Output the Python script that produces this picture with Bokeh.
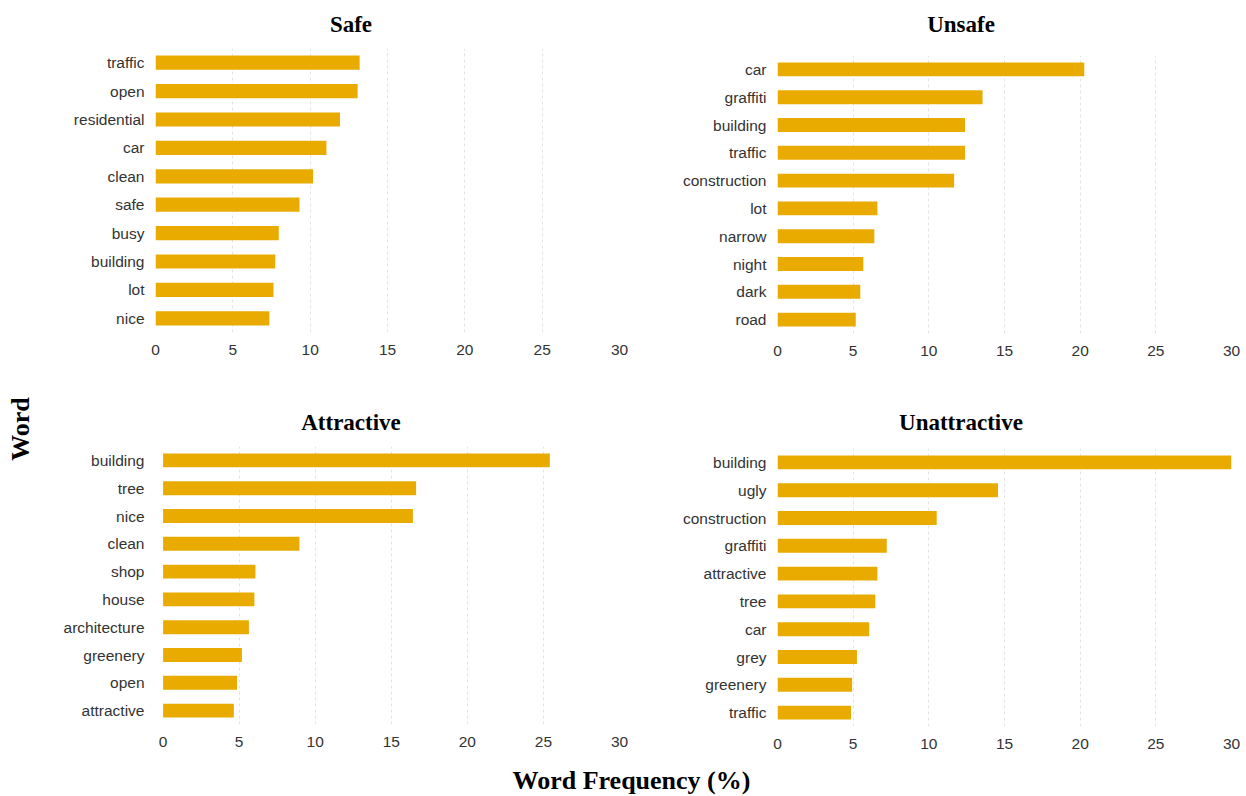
import math
from bokeh.plotting import figure
from bokeh.models import Range1d, FixedTicker, Label, ColumnDataSource
from bokeh.layouts import row, column
from bokeh.embed import file_html
from bokeh.resources import INLINE

# ---------------- data ----------------
safe_words = ["traffic", "open", "residential", "car", "clean", "safe", "busy", "building", "lot", "nice"]
safe_vals = [13.2, 13.07, 11.93, 11.05, 10.19, 9.31, 7.97, 7.74, 7.63, 7.36]

unsafe_words = ["car", "graffiti", "building", "traffic", "construction", "lot", "narrow", "night", "dark", "road"]
unsafe_vals = [20.27, 13.55, 12.39, 12.39, 11.67, 6.6, 6.4, 5.67, 5.47, 5.17]

attractive_words = ["building", "tree", "nice", "clean", "shop", "house", "architecture", "greenery", "open", "attractive"]
attractive_vals = [25.42, 16.63, 16.42, 8.96, 6.07, 6.0, 5.64, 5.18, 4.86, 4.65]

unattractive_words = ["building", "ugly", "construction", "graffiti", "attractive", "tree", "car", "grey", "greenery", "traffic"]
unattractive_vals = [30.0, 14.57, 10.52, 7.22, 6.6, 6.46, 6.06, 5.25, 4.93, 4.86]

x_ticks = [0, 5, 10, 15, 20, 25, 30]
grid_ticks = [5, 10, 15, 20, 25]

titles = ["Safe", "Unsafe", "Attractive", "Unattractive"]
x_label = "Word Frequency (%)"
y_label = "Word"

# ---------------- style / layout ----------------
BAR = "#E9AB00"
TICK_FONT = "Liberation Sans"
TITLE_FONT = "Liberation Serif"
TICK_COLOR = "#333333"

STRIP_W = 42
LEFT_W = 606
RIGHT_W = 598
TOP_TITLE_H = 40
TOP_H = 355
BOT_TITLE_H = 45
BOT_H = 320
XLAB_H = 36

LEFT_ML, LEFT_MR = 113, 29      # shared borders of left column (frames aligned)
RIGHT_ML, RIGHT_MR = 129, 15    # shared borders of right column


def text_strip(width, height, text, x, y, size, xr=None, angle=0.0):
    if xr is None:
        xr = (0, width)
    f = figure(width=width, height=height, x_range=Range1d(*xr),
               y_range=Range1d(0, height), output_backend="svg",
               toolbar_location=None, x_axis_location=None, y_axis_location=None,
               min_border=0)
    f.outline_line_color = None
    f.grid.visible = False
    f.add_layout(Label(x=x, y=y, text=text, angle=angle, text_align="center",
                       text_baseline="middle", text_font=TITLE_FONT,
                       text_font_style="bold", text_font_size=size,
                       text_color="black"))
    return f


def panel(words, vals, width, height, mb, x_start=0.0):
    n = len(words)
    pos = [n - 1 - i for i in range(n)]
    src = ColumnDataSource(dict(y=pos, v=vals, w=words))
    ml, mr, mt, mbtm = mb
    p = figure(width=width, height=height,
               x_range=Range1d(x_start, 30), y_range=Range1d(-0.5, n - 0.5),
               output_backend="svg", toolbar_location=None,
               min_border_left=ml, min_border_right=mr,
               min_border_top=mt, min_border_bottom=mbtm)
    p.hbar(y="y", left=0, right="v", height=0.5, source=src,
           fill_color=BAR, line_color=None)

    p.outline_line_color = None
    p.background_fill_color = "white"
    p.border_fill_color = "white"

    p.xaxis.ticker = FixedTicker(ticks=x_ticks)
    p.yaxis.ticker = FixedTicker(ticks=pos)
    p.yaxis.major_label_overrides = {k: w for k, w in zip(pos, words)}
    for ax in (p.xaxis, p.yaxis):
        ax.axis_line_color = None
        ax.major_tick_line_color = None
        ax.minor_tick_line_color = None
        ax.major_tick_out = 0
        ax.major_tick_in = 0
        ax.major_label_text_font = TICK_FONT
        ax.major_label_text_font_size = "15.5px"
        ax.major_label_text_color = TICK_COLOR
    p.xaxis.major_label_standoff = 12
    p.yaxis.major_label_standoff = 11

    p.xgrid.ticker = FixedTicker(ticks=grid_ticks)
    p.xgrid.grid_line_color = "#e3e3e3"
    p.xgrid.grid_line_dash = "3 3"
    p.xgrid.grid_line_width = 1
    p.ygrid.visible = False
    return p


p_safe = panel(safe_words, safe_vals, LEFT_W, TOP_H, (LEFT_ML, LEFT_MR, 8, 63))
p_unsafe = panel(unsafe_words, unsafe_vals, RIGHT_W, TOP_H, (RIGHT_ML, RIGHT_MR, 15, 62))
p_attr = panel(attractive_words, attractive_vals, LEFT_W, BOT_H, (LEFT_ML, LEFT_MR, 6, 36), x_start=-0.5)
p_unattr = panel(unattractive_words, unattractive_vals, RIGHT_W, BOT_H, (RIGHT_ML, RIGHT_MR, 8, 34))

# title strips: their frames share the column's borders, so map x in page pixels
left_frame = (STRIP_W + LEFT_ML, STRIP_W + LEFT_W - LEFT_MR)
right_frame = (STRIP_W + LEFT_W + RIGHT_ML, STRIP_W + LEFT_W + RIGHT_W - RIGHT_MR)
bot_title_y0 = TOP_TITLE_H + TOP_H

t_safe = text_strip(LEFT_W, TOP_TITLE_H, titles[0], 350.5, TOP_TITLE_H - 23.9, "23px", xr=left_frame)
t_unsafe = text_strip(RIGHT_W, TOP_TITLE_H, titles[1], 960.5, TOP_TITLE_H - 23.9, "23px", xr=right_frame)
t_attr = text_strip(LEFT_W, BOT_TITLE_H, titles[2], 350.5, BOT_TITLE_H - (422.2 - bot_title_y0), "23px", xr=left_frame)
t_unattr = text_strip(RIGHT_W, BOT_TITLE_H, titles[3], 960.5, BOT_TITLE_H - (422.2 - bot_title_y0), "23px", xr=right_frame)

strip_h = TOP_TITLE_H + TOP_H + BOT_TITLE_H + BOT_H
p_ylab = text_strip(STRIP_W, strip_h, y_label, 19.5, strip_h - 428.5, "26px", angle=math.pi / 2)

total_w = STRIP_W + LEFT_W + RIGHT_W
p_xlab = text_strip(total_w, XLAB_H, x_label, 631, XLAB_H - (780.2 - strip_h), "26px")

layout = column(
    row(p_ylab,
        column(t_safe, p_safe, t_attr, p_attr),
        column(t_unsafe, p_unsafe, t_unattr, p_unattr)),
    p_xlab,
)

open("out.html", "w").write(file_html(layout, INLINE))
